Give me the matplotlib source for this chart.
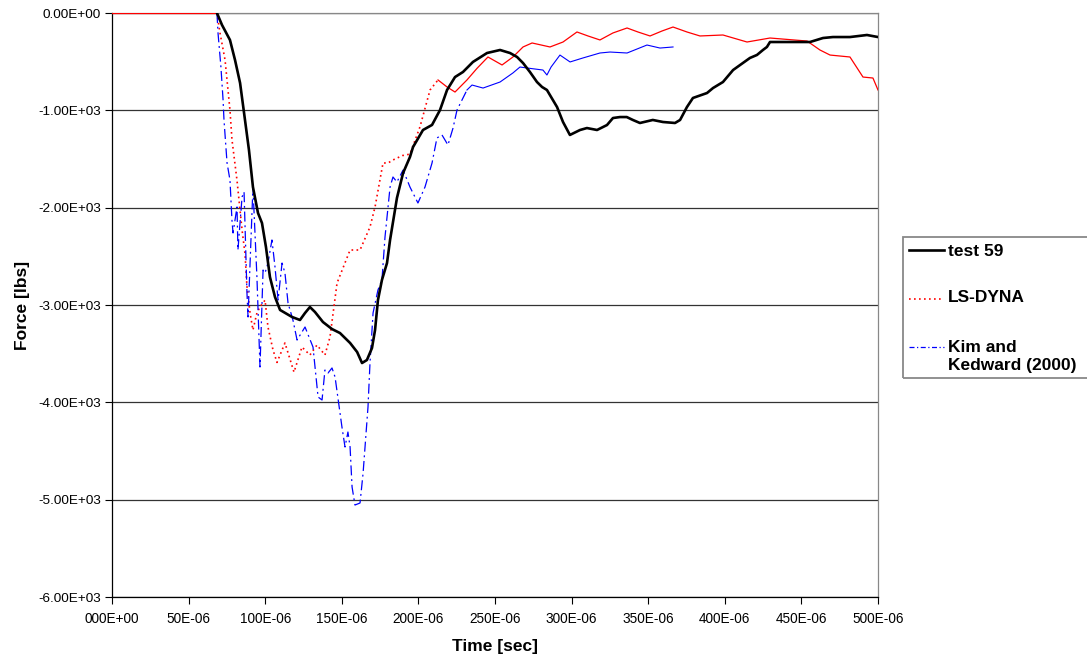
import numpy as np
import matplotlib
matplotlib.use("Agg")
import matplotlib.pyplot as plt
from matplotlib.lines import Line2D
from matplotlib.patches import Rectangle

# time in microseconds, force in lbs
t_test = [68.5, 71.8, 77, 80.3, 83.6, 86.2, 89.4, 92, 95.3, 97.9, 100.5, 103.1, 106.4, 109.7,
          117.5, 122.7, 126, 129.2, 132.5, 137.7, 143.6, 148.8, 155.4, 160, 163.2, 166.4, 169.7,
          171.7, 173.6, 176.2, 179.5, 181.5, 186, 190, 194.5, 196.5, 203, 208.9, 214.1, 218.7,
          223.9, 229.1, 235.6, 244.8, 253.3, 259.8, 264.4, 268.3, 272.8, 277.4, 280.7, 283.9,
          290.5, 294.4, 298.9, 305.5, 310, 316.6, 323.1, 327, 331.6, 336, 340, 344.6, 353,
          359.7, 367.5, 370.8, 375.3, 379.2, 388.4, 392.3, 398.8, 405.4, 410, 416.4, 421,
          424.9, 427.5, 429.5, 455.6, 464.1, 470.6, 481.7, 492.8, 500]
f_test = [0, -123, -277, -483, -719, -1027, -1408, -1788, -2055, -2158, -2405, -2713, -2918,
          -3051, -3123, -3154, -3082, -3021, -3072, -3175, -3247, -3288, -3390, -3483, -3596,
          -3565, -3442, -3257, -2949, -2743, -2569, -2332, -1900, -1644, -1479, -1377, -1202,
          -1150, -997, -791, -658, -606, -503, -411, -380, -411, -452, -514, -606, -709, -760,
          -791, -966, -1120, -1253, -1202, -1182, -1202, -1151, -1079, -1069, -1069, -1099,
          -1130, -1099, -1120, -1130, -1099, -966, -873, -822, -771, -709, -586, -534, -462,
          -431, -380, -349, -298, -298, -257, -247, -247, -226, -247]

t_dyna = [0, 68.5, 70.5, 73.8, 77, 78.3, 81.6, 84.9, 86.8, 88.1, 90.1, 92, 94.6, 96.6, 99.9,
          101.8, 105.1, 107.7, 112.9, 118.8, 124, 129.2, 133.8, 139, 142.3, 146.9, 155.4, 161.9,
          168.4, 171.7, 176.9, 180.2, 183.4, 189.5, 194.5, 201, 207.6, 212.8, 218.7, 223.9,
          231.7, 238.3, 245.4, 254.6, 261.7, 268.3, 274.2, 285.9, 294.4, 303.5, 310.7, 318.5,
          327, 336.2, 343.3, 351.2, 359, 366.2, 375.3, 383.8, 398.8, 414.5, 429.5, 453.7, 462.1,
          468.7, 481.7, 490.2, 496.7, 500]
f_dyna = [0, 0, -205, -483, -997, -1300, -1720, -2230, -2470, -2810, -3080, -3257, -3082, -3020,
          -2950, -3226, -3462, -3590, -3390, -3690, -3432, -3514, -3411, -3514, -3329, -2774,
          -2435, -2435, -2199, -1993, -1541, -1541, -1510, -1465, -1450, -1171, -791, -688, -760,
          -812, -688, -568, -452, -534, -452, -349, -308, -349, -298, -195, -236, -277, -205,
          -154, -195, -236, -185, -144, -195, -236, -226, -298, -257, -288, -380, -432, -452,
          -658, -668, -791]

t_kim = [68.5, 69.2, 71.1, 72.5, 73.1, 75.1, 77, 78.3, 79, 81.6, 82.2, 84.9, 86.2, 88.1, 88.8,
         92, 94.6, 96.6, 98.6, 99.9, 101.8, 104.4, 106.4, 108.4, 111, 112.9, 114.9, 118.1, 120.8,
         126, 131.2, 134.5, 137.1, 139, 141, 143.6, 145.6, 150.1, 152.1, 154, 155.4, 156.7,
         158.6, 161.9, 163.9, 167.1, 168.4, 170.4, 173.6, 176.2, 178.2, 181.5, 183.4, 186, 190,
         194.5, 199.7, 204.3, 208.9, 212.1, 215.4, 219.3, 222.6, 225.2, 231.7, 235, 242.2,
         253.3, 261.7, 266.3, 270.9, 281.3, 283.9, 286.6, 292.4, 299, 307.4, 318.5, 325.1,
         336.2, 349.2, 357.7, 366.2]
f_kim = [0, -205, -555, -894, -1099, -1541, -1716, -2127, -2260, -1993, -2435, -1890, -1839,
         -2877, -3123, -1788, -2713, -3637, -2641, -2671, -2569, -2332, -2610, -2949, -2569,
         -2671, -2980, -3154, -3360, -3226, -3432, -3945, -3976, -3668, -3699, -3647, -3740,
         -4254, -4459, -4305, -4459, -4870, -5055, -5034, -4726, -4048, -3596, -3082, -2846,
         -2743, -2302, -1788, -1685, -1736, -1613, -1788, -1952, -1788, -1541, -1284, -1253,
         -1356, -1182, -997, -791, -740, -771, -709, -616, -555, -565, -586, -637, -555, -432,
         -503, -462, -411, -401, -411, -329, -360, -349]

x_ticks = np.arange(0, 501, 50)
x_labels = ["000E+00", "50E-06", "100E-06", "150E-06", "200E-06", "250E-06",
            "300E-06", "350E-06", "400E-06", "450E-06", "500E-06"]
y_ticks = np.arange(0, -6001, -1000)
y_labels = ["0.00E+00", "-1.00E+03", "-2.00E+03", "-3.00E+03",
            "-4.00E+03", "-5.00E+03", "-6.00E+03"]
series_names = ["test 59", "LS-DYNA", "Kim and\nKedward (2000)"]

plt.rcParams['font.family'] = ['Liberation Sans', 'DejaVu Sans']

W, H = 1087, 659
fig = plt.figure(figsize=(W / 100, H / 100), dpi=100)
ax = fig.add_axes([112 / W, 1 - 597 / H, 766 / W, 584 / H])

t_test = np.array(t_test)
f_test = np.array(f_test)
t_dyna = np.array(t_dyna)
f_dyna = np.array(f_dyna)
t_kim = np.array(t_kim)
f_kim = np.array(f_kim)

test_style = dict(color='black', lw=1.9, solid_capstyle='round', solid_joinstyle='round')
dyna_style = dict(color='red', lw=1.2, ls=(0, (1, 2)))
kim_style = dict(color='blue', lw=0.9, ls=(0, (8, 3, 1.5, 3)))

ax.plot(t_test, f_test, zorder=5, **test_style)

# the pattern only shows on the steep parts; flat stretches come out as a thin solid line
steep = (t_dyna >= 68.5) & (t_dyna <= 213)
ax.plot(t_dyna[steep], f_dyna[steep], zorder=3, **dyna_style)
ax.plot(t_dyna[t_dyna <= 68.5], f_dyna[t_dyna <= 68.5], color='red', lw=0.9, zorder=3)
ax.plot(t_dyna[t_dyna >= 212.8], f_dyna[t_dyna >= 212.8], color='red', lw=0.9, zorder=3)

ax.plot(t_kim[t_kim <= 232], f_kim[t_kim <= 232], zorder=4, **kim_style)
ax.plot(t_kim[t_kim >= 231.7], f_kim[t_kim >= 231.7], color='blue', lw=0.8, zorder=4)

ax.set_xlim(0, 500)
ax.set_ylim(-6000, 0)
ax.set_xticks(x_ticks)
ax.set_xticklabels(x_labels, fontsize=9.8)
ax.set_yticks(y_ticks)
ax.set_yticklabels(y_labels, fontsize=9.7)
ax.tick_params(direction='out', length=5, width=0.8, colors='black')
ax.tick_params(axis='x', pad=6)
ax.tick_params(axis='y', pad=3)
ax.yaxis.grid(True, color='#333333', lw=0.9)
ax.set_axisbelow(True)
for side in ['top', 'right']:
    ax.spines[side].set_color('#888888')
    ax.spines[side].set_linewidth(0.9)
ax.spines['left'].set_linewidth(0.9)
ax.spines['bottom'].set_linewidth(0.9)

ax.set_xlabel("Time [sec]", fontsize=12.5, fontweight='bold')
ax.xaxis.set_label_coords(0.5, -0.072)
ax.set_ylabel("Force [lbs]", fontsize=12.5, fontweight='bold')
ax.yaxis.set_label_coords(-0.107, 0.5)

# legend box, runs off the right edge of the figure
fig.add_artist(Rectangle((903 / W, 1 - 378 / H), 200 / W, 141 / H, transform=fig.transFigure,
                         fill=False, edgecolor='#888888', lw=1.3, clip_on=False))
handle_styles = [dict(color='black', lw=1.9), dict(color='red', lw=1.2, ls=(0, (1, 2))),
                 dict(color='blue', lw=0.9, ls=(0, (4, 2, 1, 2)))]
handle_y = [250, 299, 347]
label_y = [251, 298, 357]
for name, style, hy, ly in zip(series_names, handle_styles, handle_y, label_y):
    fig.add_artist(Line2D([909 / W, 944 / W], [1 - hy / H] * 2, transform=fig.transFigure, **style))
    fig.text(948 / W, 1 - ly / H, name, fontsize=12.5, fontweight='bold',
             ha='left', va='center', linespacing=1.25)

fig.savefig("out.png", dpi=100)
